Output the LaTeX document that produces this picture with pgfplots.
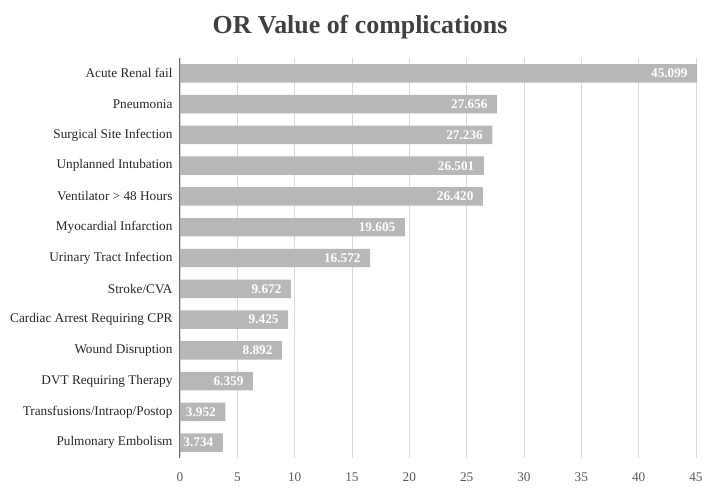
\documentclass[border=0pt]{standalone}
\usepackage{fontspec}
\setmainfont{Liberation Serif}
\usepackage{pgfplots}
\pgfplotsset{compat=1.18}
\definecolor{barc}{HTML}{B7B7B7}
\definecolor{gridc}{HTML}{D9D9D9}
\definecolor{txtc}{HTML}{262626}
\definecolor{titc}{HTML}{404040}
\begin{document}
\begin{tikzpicture}
\useasboundingbox (-180bp,-33bp) rectangle (522bp,458bp);
\begin{axis}[
  at={(0,0)}, anchor=south west,
  scale only axis,
  width=516bp, height=400bp,
  xbar, bar width=0.6,
  xmin=0, xmax=45, ymin=-0.5, ymax=12.5,
  y dir=reverse,
  clip=false,
  xtick={0,5,...,45},
  ytick={0,...,12},
  yticklabels={Acute Renal fail,Pneumonia,Surgical Site Infection,Unplanned Intubation,Ventilator > 48 Hours,Myocardial Infarction,Urinary Tract Infection,Stroke/CVA,Cardiac Arrest Requiring CPR,Wound Disruption,DVT Requiring Therapy,Transfusions/Intraop/Postop,Pulmonary Embolism},
  axis x line*=bottom,
  x axis line style={draw=none},
  axis y line*=left,
  y axis line style={draw=gray!80!black, line width=1pt, -},
  major tick length=0pt,
  xmajorgrids, grid style={gridc, line width=0.8pt},
  ticklabel style={font=\fontsize{13.3}{15}\selectfont, text=txtc},
  xticklabel style={yshift=-11bp, text=gray!70!black},
  yticklabel style={xshift=-4bp},
  /pgf/number format/assume math mode=true,
  nodes near coords={\pgfmathprintnumber[fixed,fixed zerofill,precision=3]{\pgfplotspointmeta}},
  point meta=x,
  every node near coord/.append style={anchor=east, xshift=-6bp, text=white, font=\bfseries\fontsize{13.3}{15}\selectfont},
]
\addplot[fill=barc, draw=none] coordinates {
(45.099,0) (27.656,1) (27.236,2) (26.501,3) (26.420,4) (19.605,5) (16.572,6) (9.672,7) (9.425,8) (8.892,9) (6.359,10) (3.952,11) (3.734,12)
};
\end{axis}
\node[font=\bfseries\fontsize{26}{30}\selectfont, text=titc] at (180bp,431bp) {OR Value of complications};
\end{tikzpicture}
\end{document}
